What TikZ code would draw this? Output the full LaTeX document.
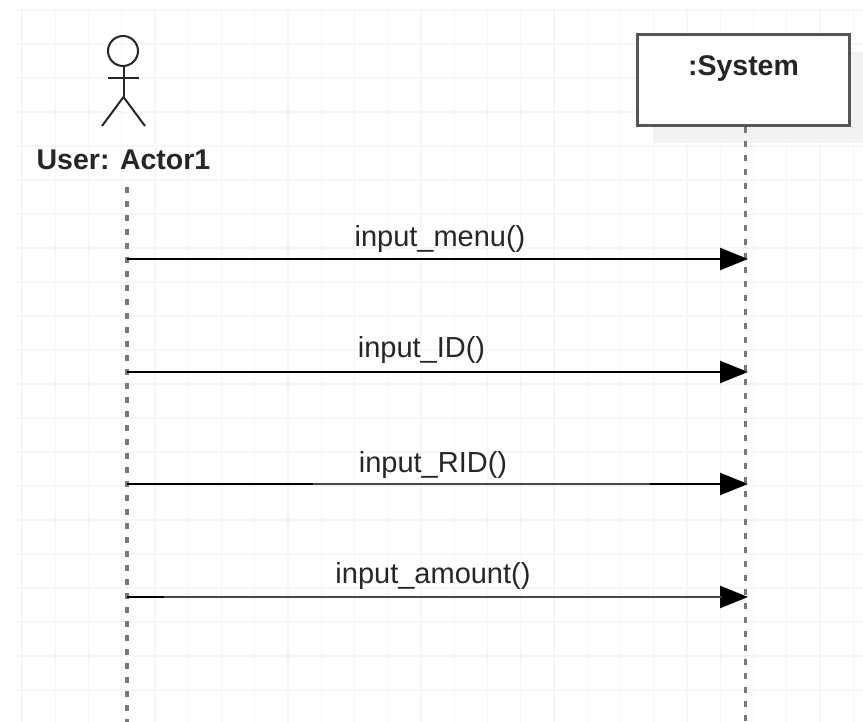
\documentclass[tikz,border=0pt]{standalone}
\usepackage{fontspec}
\setmainfont{Liberation Sans}
\usetikzlibrary{arrows.meta}
\tikzset{>={Triangle[length=28pt,width=22pt]}}
\definecolor{gridgray}{RGB}{246,246,246}
\definecolor{shadowgray}{RGB}{242,242,242}
\definecolor{linegray}{RGB}{120,120,120}
\definecolor{boxgray}{RGB}{85,85,85}
\tikzstyle{gridline}=[draw=gridgray,line width=1.2pt]
\tikzstyle{actorline}=[draw=black!85,line width=2pt]
\tikzstyle{lifeline}=[draw=linegray,line width=3.5pt,dash pattern=on 6pt off 8pt]
\tikzstyle{message}=[draw=black,line width=2.4pt,->]
\tikzstyle{fadedmessage}=[draw=black!72,line width=2.8pt]
\tikzstyle{msglabel}=[font=\fontsize{29}{32}\selectfont,text=black!85,inner sep=0pt,anchor=base]
\tikzstyle{titlelabel}=[font=\fontsize{28.5}{32}\selectfont\bfseries,text=black!85,inner sep=0pt,anchor=base]

\begin{document}
\begin{tikzpicture}[x=1pt,y=-1pt]
    \useasboundingbox (0,0) rectangle (863,722);
    % background grid
    \foreach \i in {0,...,25}
      \draw[gridline] ({22+33.25*\i},8) -- ({22+33.25*\i},722);
    \draw[gridline] (15,10) -- (863,10);
    \foreach \j in {1,...,20}
      \draw[gridline] (15,{10+34*\j}) -- (863,{10+34*\j});

    % actor
    \draw[actorline] (123,51) circle (15);
    \draw[actorline] (123.5,66) -- (123.5,97);
    \draw[actorline] (108,78) -- (139,78);
    \draw[actorline] (102,126) -- (123.5,97) -- (145,126);
    \node[titlelabel] (user) at (123.5,170) {User: Actor1};

    % system box with its shadow
    \fill[shadowgray] (653,52) rectangle (863,143);
    \node[draw=boxgray,line width=2.5pt,fill=white,minimum width=212pt,minimum height=91pt,inner sep=0pt] (system) at (743.5,80) {};
    \node[titlelabel] (systemtext) at (743.5,76) {:System};

    % lifelines
    \coordinate (userbottom) at (127,722);
    \coordinate (systembottom) at (745.5,722);
    \coordinate (usertop) at (127,187);
    \draw[lifeline] (usertop) -- (userbottom);
    \draw[lifeline] (system.south -| systembottom) -- (systembottom);

    % messages
    \coordinate (u1) at (127,259);
    \coordinate (s1) at (748,259);
    \coordinate (u2) at (127,372);
    \coordinate (s2) at (748,372);
    \coordinate (u3) at (127,484);
    \coordinate (s3) at (748,484);
    \coordinate (u4) at (127,597);
    \coordinate (s4) at (748,597);
    \draw[message] (u1) -- (s1);
    \draw[message] (u2) -- (s2);
    \draw[message] (u3) -- (s3);
    \draw[message] (u4) -- (s4);
    % lighter stretches of the last two lines
    \coordinate (f3a) at (313,484);
    \coordinate (f3b) at (650,484);
    \coordinate (f4a) at (164,597);
    \coordinate (f4b) at (722,597);
    \draw[fadedmessage] (f3a) -- (f3b);
    \draw[fadedmessage] (f4a) -- (f4b);
    \node[msglabel] (menu) at (440,246.5) {input\_menu()};
    \node[msglabel] (id) at (421.5,357.5) {input\_ID()};
    \node[msglabel] (rid) at (433,472) {input\_RID()};
    \node[msglabel] (amount) at (433,583) {input\_amount()};
  \end{tikzpicture}
\end{document}
